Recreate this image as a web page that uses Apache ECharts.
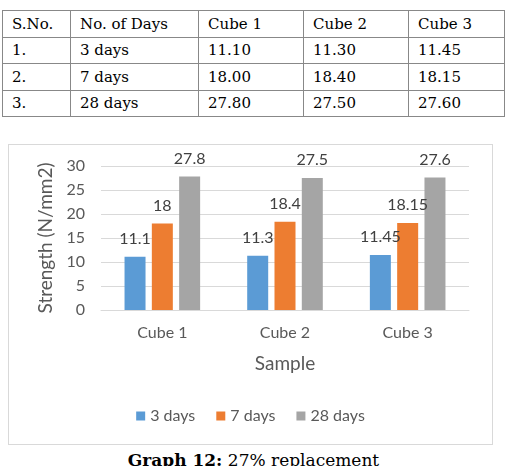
<!DOCTYPE html>
<html>
<head>
<meta charset="utf-8">
<script src="https://cdn.jsdelivr.net/npm/echarts@6/dist/echarts.min.js"></script>
<style>
  html, body { margin: 0; padding: 0; background: #fff; }
  body { width: 507px; height: 466px; position: relative; overflow: hidden; }
  .tbl {
    position: absolute; left: 2px; top: 10px;
    border-collapse: collapse;
    font-family: "DejaVu Serif", serif; font-size: 15px; color: #000;
  }
  .tbl td {
    border: 1px solid #888; height: 26.5px; padding: 0 0 0 9px;
    box-sizing: border-box; white-space: nowrap; line-height: 24px;
  }
  .box {
    position: absolute; left: 8px; top: 144px; width: 485px; height: 301px;
    border: 1px solid #d9d9d9; box-sizing: border-box;
  }
  #chart { width: 100%; height: 100%; }
  .caption {
    position: absolute; left: 0; width: 507px; top: 450px; text-align: center;
    font-family: "DejaVu Serif", serif; font-size: 17px; color: #000;
  }
</style>
</head>
<body>
<table class="tbl" id="tbl"></table>
<div class="box"><div id="chart"></div></div>
<div class="caption"><b>Graph 12:</b> 27% replacement</div>
<script>
// table rows
const headers = ['S.No.', 'No. of Days', 'Cube 1', 'Cube 2', 'Cube 3'];
const colWidths = [68, 128, 105, 105, 96];
const rowNos = ['1.', '2.', '3.'];
const rowDays = ['3 days', '7 days', '28 days'];
const rowCells = [
  ['11.10', '11.30', '11.45'],
  ['18.00', '18.40', '18.15'],
  ['27.80', '27.50', '27.60']
];

// chart data
const categories = ['Cube 1', 'Cube 2', 'Cube 3'];
const seriesNames = ['3 days', '7 days', '28 days'];
const days3 = [11.1, 11.3, 11.45];
const days7 = [18, 18.4, 18.15];
const days28 = [27.8, 27.5, 27.6];

let html = '<tr>' + headers.map((h, i) => `<td style="width:${colWidths[i]}px">${h}</td>`).join('') + '</tr>';
rowNos.forEach((n, r) => {
  html += '<tr><td>' + n + '</td><td>' + rowDays[r] + '</td>' +
    rowCells[r].map(v => '<td>' + v + '</td>').join('') + '</tr>';
});
document.getElementById('tbl').innerHTML = html;

let chart = echarts.init(document.getElementById('chart'));
const txt = '#595959';
const font = 'Lato, "Open Sans", sans-serif';
const mkSeries = (name, data) => ({
  name: name,
  type: 'bar',
  data: data,
  barWidth: 21,
  barGap: '30%',
  label: {
    show: true,
    position: 'top',
    distance: 10,
    color: '#404040',
    fontSize: 16,
    fontFamily: font
  }
});
chart.setOption({
  animation: false,
  color: ['#5B9BD5', '#ED7D31', '#A5A5A5'],
  textStyle: { fontFamily: font },
  grid: { left: 92, right: 23, top: 21, bottom: 134 },
  legend: {
    bottom: 15,
    left: 'center',
    itemWidth: 9,
    itemHeight: 9,
    itemGap: 21,
    icon: 'rect',
    textStyle: { color: txt, fontSize: 16, fontFamily: font },
    data: seriesNames
  },
  xAxis: {
    type: 'category',
    data: categories,
    name: 'Sample',
    nameLocation: 'middle',
    nameGap: 44,
    nameTextStyle: { color: txt, fontSize: 19, fontFamily: font },
    axisLine: { lineStyle: { color: '#d9d9d9' } },
    axisTick: { show: false },
    axisLabel: { color: txt, fontSize: 16, margin: 15, fontFamily: font }
  },
  yAxis: {
    type: 'value',
    min: 0,
    max: 30,
    interval: 5,
    name: 'Strength (N/mm2)',
    nameLocation: 'middle',
    nameGap: 44,
    nameTextStyle: { color: txt, fontSize: 19, fontFamily: font },
    axisLabel: { color: txt, fontSize: 16, margin: 16, fontFamily: font },
    splitLine: { lineStyle: { color: '#d9d9d9' } }
  },
  series: [
    mkSeries(seriesNames[0], days3),
    mkSeries(seriesNames[1], days7),
    mkSeries(seriesNames[2], days28)
  ]
});
</script>
</body>
</html>
